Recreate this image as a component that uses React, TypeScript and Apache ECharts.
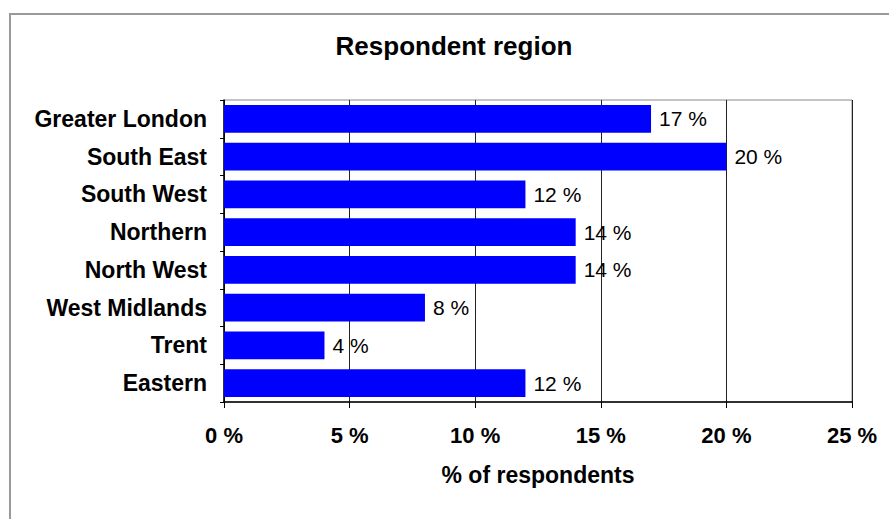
import React, { useEffect, useRef } from "react";
import * as echarts from "echarts";

const categories = [
  "Greater London",
  "South East",
  "South West",
  "Northern",
  "North West",
  "West Midlands",
  "Trent",
  "Eastern",
];
const values = [17, 20, 12, 14, 14, 8, 4, 12];
const titleText = "Respondent region";
const xAxisName = "% of respondents";
const xMin = 0;
const xMax = 25;
const xInterval = 5;

const FONT = "'Liberation Sans', Arial, Helvetica, sans-serif";

export default function App() {
  const ref = useRef<HTMLDivElement>(null);
  useEffect(() => {
    if (!ref.current) return;
    const chart = echarts.init(ref.current, undefined, { renderer: "svg" });
    chart.setOption({
      animation: false,
      backgroundColor: "#ffffff",
      textStyle: { fontFamily: FONT },
      title: {
        text: titleText,
        left: 449,
        top: 28,
        textAlign: "center",
        textStyle: { fontFamily: FONT, fontSize: 26, fontWeight: "bold", color: "#000" },
      },
      graphic: [
        {
          type: "rect",
          shape: { x: 10, y: 14, width: 900, height: 600 },
          style: { fill: "none", stroke: "#9a9a9a", lineWidth: 2 },
          silent: true,
          z: -10,
        },
      ],
      grid: {
        left: 224,
        top: 100,
        right: 37,
        bottom: 117,
        show: true,
        borderColor: "#888888",
        borderWidth: 1,
        backgroundColor: "transparent",
      },
      xAxis: {
        type: "value",
        min: xMin,
        max: xMax,
        interval: xInterval,
        name: xAxisName,
        nameLocation: "middle",
        nameGap: 61,
        nameTextStyle: { fontFamily: FONT, fontSize: 23, fontWeight: "bold", color: "#000" },
        axisLine: { show: true, lineStyle: { color: "#000", width: 1.5 } },
        axisTick: { show: true, length: 6, lineStyle: { color: "#000" } },
        axisLabel: {
          formatter: "{value} %",
          margin: 22,
          fontFamily: FONT,
          fontSize: 22,
          fontWeight: "bold",
          color: "#000",
        },
        splitLine: { show: true, lineStyle: { color: "#222", width: 1 } },
      },
      yAxis: {
        type: "category",
        data: categories,
        inverse: true,
        axisLine: { show: true, lineStyle: { color: "#000", width: 1.5 } },
        axisTick: { show: true, length: 4, lineStyle: { color: "#000" } },
        axisLabel: {
          margin: 17,
          fontFamily: FONT,
          fontSize: 23,
          fontWeight: "bold",
          color: "#000",
        },
        splitLine: { show: false },
      },
      series: [
        {
          type: "bar",
          data: values,
          barCategoryGap: "26%",
          itemStyle: { color: "#0000ff" },
          label: {
            show: true,
            position: "right",
            distance: 8,
            formatter: "{c} %",
            fontFamily: FONT,
            fontSize: 21,
            color: "#000",
          },
        },
      ],
    });
    return () => chart.dispose();
  }, []);
  return (
    <div
      ref={ref}
      style={{ position: "fixed", left: 0, top: 0, width: 889, height: 519 }}
    />
  );
}
